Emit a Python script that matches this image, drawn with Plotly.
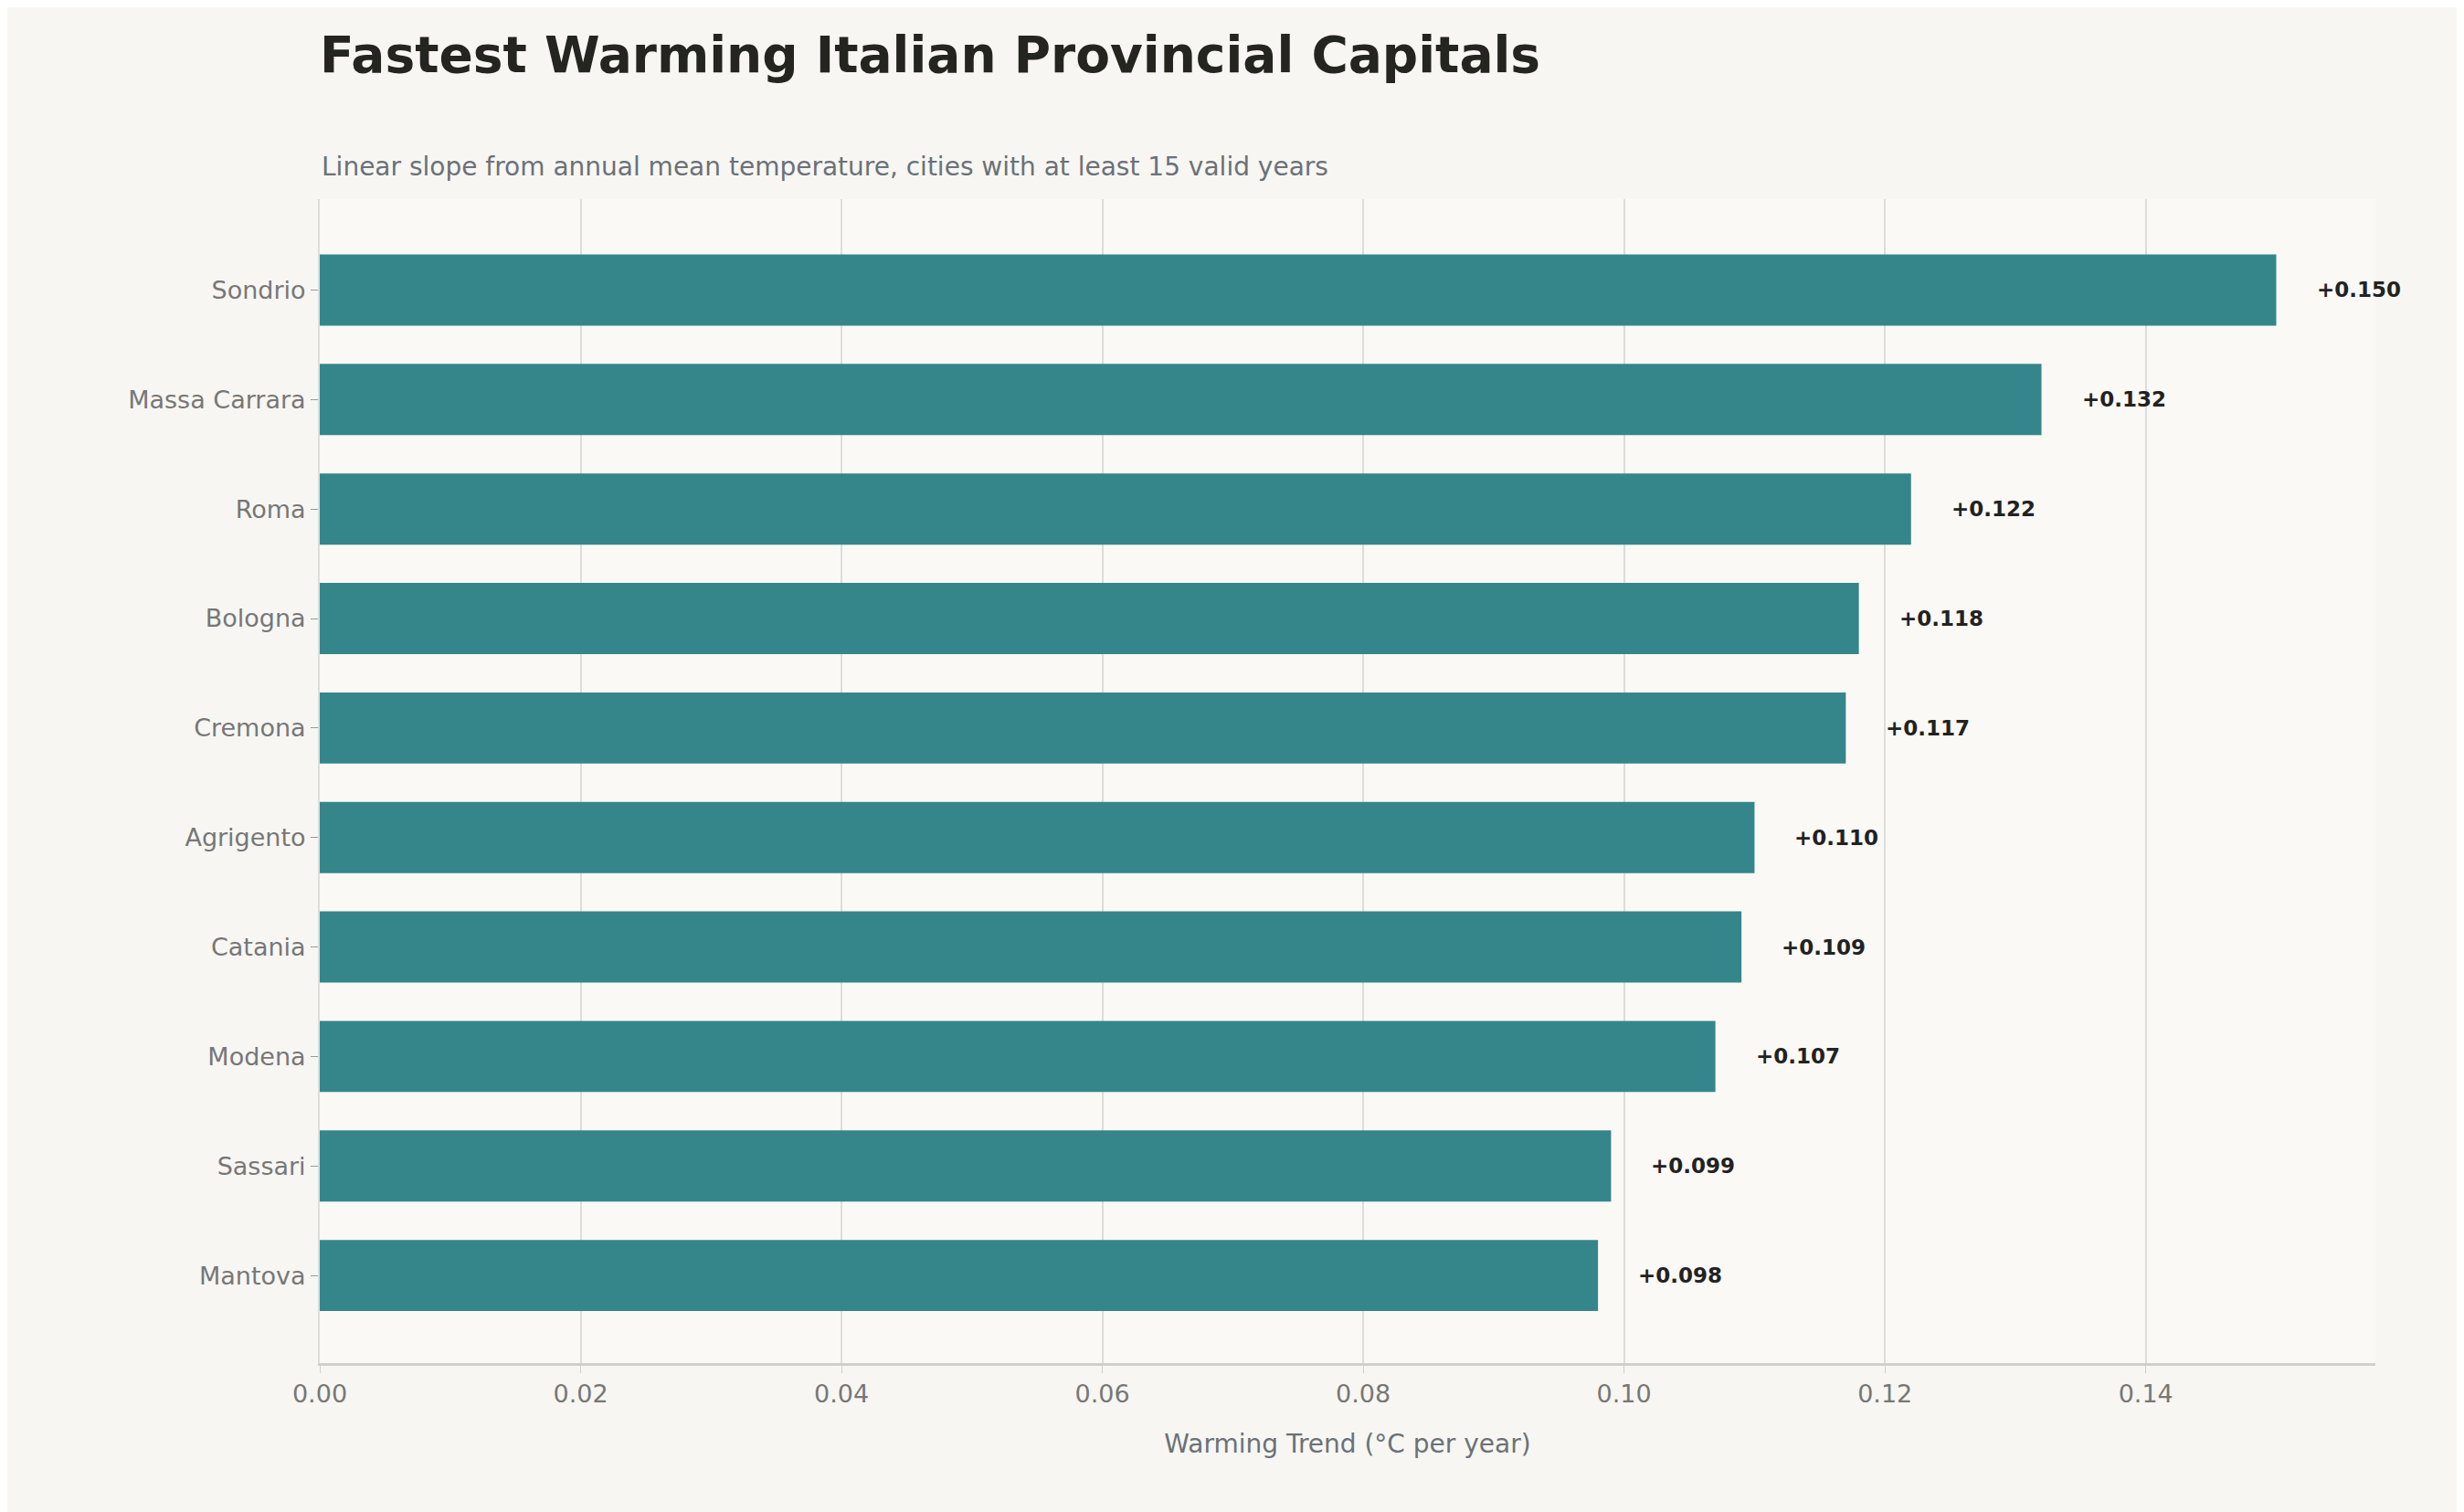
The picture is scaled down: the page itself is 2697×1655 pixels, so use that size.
import plotly.graph_objects as go

cities = ['Sondrio', 'Massa Carrara', 'Roma', 'Bologna', 'Cremona',
          'Agrigento', 'Catania', 'Modena', 'Sassari', 'Mantova']
trend = [0.150, 0.132, 0.122, 0.118, 0.117, 0.110, 0.109, 0.107, 0.099, 0.098]

font = 'DejaVu Sans'

fig = go.Figure(go.Bar(
    y=cities, x=trend, orientation='h',
    marker=dict(color='#35868A', line=dict(width=0)),
    width=0.65,
))

for c, v in zip(cities, trend):
    fig.add_annotation(x=v, y=c, text=f'<b>+{v:.3f}</b>', showarrow=False,
                       xanchor='left', xshift=42,
                       font=dict(family=font, size=23, color='#222222'))

fig.update_layout(
    width=2697, height=1655,
    paper_bgcolor='#F7F6F2', plot_bgcolor='#FAF9F6',
    margin=dict(l=342, r=105, t=210, b=171),
    showlegend=False,
    title=dict(text='<b>Fastest Warming Italian Provincial Capitals</b>',
               x=342 / 2697, xanchor='left', y=1 - 52 / 1655, yanchor='middle',
               font=dict(family=font, size=55, color='#25251F')),
    xaxis=dict(range=[0, 0.1576], dtick=0.02, tickformat='.2f',
               showgrid=True, gridcolor='#DDDDDA', gridwidth=2,
               layer='above traces', zeroline=False,
               showline=True, linecolor='#CFCFCC', linewidth=3,
               ticks='outside', tickcolor='#CFCFCC', ticklen=8,
               tickfont=dict(family=font, size=27, color='#777777'),
               title=dict(text='Warming Trend (°C per year)', standoff=30,
                          font=dict(family=font, size=28, color='#6B7178'))),
    yaxis=dict(categoryorder='array', categoryarray=cities[::-1],
               range=[-0.8, 9.83], showgrid=False, zeroline=False,
               showline=True, linecolor='#DDDDDA', linewidth=2,
               ticks='outside', tickcolor='#999999', ticklen=8,
               tickfont=dict(family=font, size=27, color='#777777')),
)

fig.add_annotation(text='Linear slope from annual mean temperature, cities with at least 15 valid years',
                   xref='paper', yref='paper', x=0, y=1 + 36 / 1274,
                   xanchor='left', yanchor='middle', showarrow=False,
                   font=dict(family=font, size=28, color='#6B7178'))

fig.write_html('out.html')
